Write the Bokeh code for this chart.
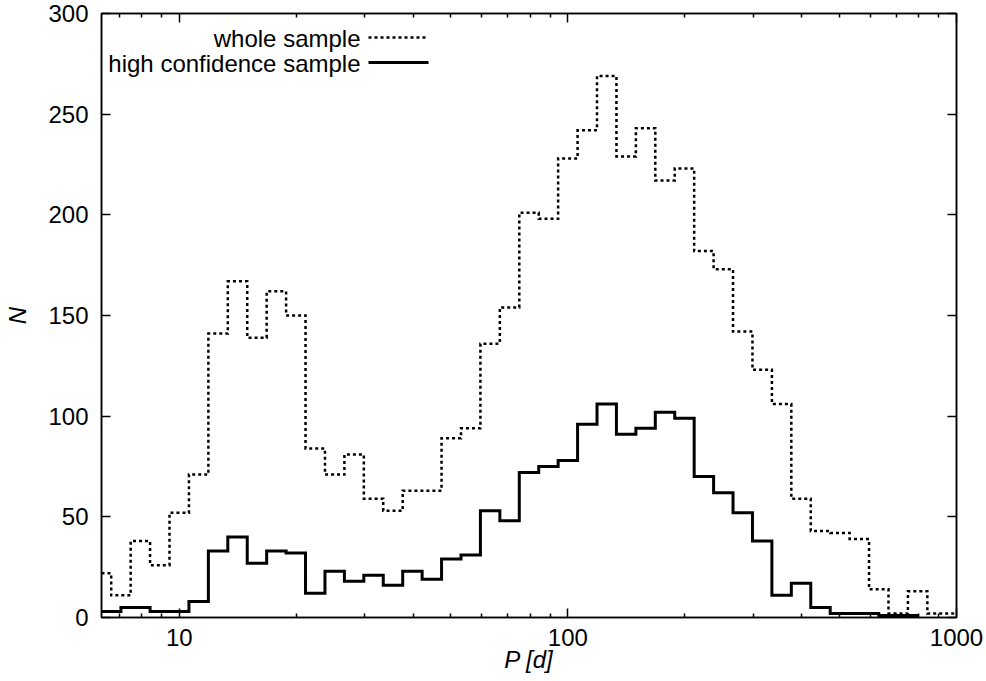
import numpy as np
from bokeh.plotting import figure
from bokeh.models import Range1d, FixedTicker, LogAxis, LinearAxis, Label, Arrow
from bokeh.embed import file_html
from bokeh.resources import INLINE

# ---------------- data (bin centres are log10(P / d)) ----------------
whole_logp = [0.80, 0.85, 0.90, 0.95, 1.00, 1.05, 1.10, 1.15, 1.20, 1.25,
              1.30, 1.35, 1.40, 1.45, 1.50, 1.55, 1.60, 1.65, 1.70, 1.75,
              1.80, 1.85, 1.90, 1.95, 2.00, 2.05, 2.10, 2.15, 2.20, 2.25,
              2.30, 2.35, 2.40, 2.45, 2.50, 2.55, 2.60, 2.65, 2.70, 2.75,
              2.80, 2.85, 2.90, 2.95, 3.00]
whole_n = [22, 11, 38, 26, 52, 71, 141, 167, 139, 162,
           150, 84, 71, 81, 59, 53, 63, 63, 89, 94,
           136, 154, 201, 198, 228, 242, 269, 229, 243, 217,
           223, 182, 173, 142, 123, 106, 59, 43, 42, 39,
           14, 2, 13, 2, 2]

conf_logp = [0.80, 0.90, 0.95, 1.00, 1.05, 1.10, 1.15, 1.20, 1.25, 1.30,
             1.35, 1.40, 1.45, 1.50, 1.55, 1.60, 1.65, 1.70, 1.75, 1.80,
             1.85, 1.90, 1.95, 2.00, 2.05, 2.10, 2.15, 2.20, 2.25, 2.30,
             2.35, 2.40, 2.45, 2.50, 2.55, 2.60, 2.65, 2.70, 2.75, 2.85]
conf_n = [3, 5, 3, 3, 8, 33, 40, 27, 33, 32,
          12, 23, 18, 21, 16, 23, 19, 29, 31, 53,
          48, 72, 75, 78, 96, 106, 91, 94, 102, 99,
          70, 62, 52, 38, 11, 17, 5, 2, 2, 1]

series_names = ["whole sample", "high confidence sample"]
xticks = [10, 100, 1000]
xtick_labels = ["10", "100", "1000"]
yticks = [0, 50, 100, 150, 200, 250, 300]
x_label = "P [d]"
y_label = "N"


def histeps(centres, counts):
    """gnuplot-style 'histeps': step edges half-way between centres."""
    c = np.asarray(centres, float)
    n = np.asarray(counts, float)
    mids = (c[:-1] + c[1:]) / 2.0
    left = c[0] - (c[1] - c[0]) / 2.0
    right = c[-1] + (c[-1] - c[-2]) / 2.0
    edges = np.concatenate([[left], mids, [right]])
    xs, ys = [edges[0]], [0.0]
    for i in range(len(n)):
        xs += [edges[i], edges[i + 1]]
        ys += [n[i], n[i]]
    xs.append(edges[-1])
    ys.append(0.0)
    return list(10 ** np.array(xs)), ys


FONT = "Liberation Sans"
FS = "24px"

p = figure(width=986, height=681, x_axis_type="log",
           x_range=Range1d(10 ** 0.8, 1000), y_range=Range1d(0, 300),
           output_backend="svg", toolbar_location=None,
           min_border_left=101, min_border_right=30,
           min_border_top=13, min_border_bottom=64)
p.xgrid.grid_line_color = None
p.ygrid.grid_line_color = None
p.outline_line_color = "black"
p.outline_line_width = 1.5
p.background_fill_color = "white"
p.border_fill_color = "white"

minor = [m * 10 ** k for k in range(0, 3) for m in range(2, 10)]
xticker = FixedTicker(ticks=xticks, minor_ticks=minor)
yticker = FixedTicker(ticks=yticks, minor_ticks=[])


def style_axis(ax, show_labels=True):
    ax.axis_line_color = "black"
    ax.axis_line_width = 1.5
    ax.major_tick_in = 9
    ax.major_tick_out = 0
    ax.minor_tick_in = 4
    ax.minor_tick_out = 0
    ax.major_tick_line_width = 1.5
    ax.minor_tick_line_width = 1.5
    ax.major_tick_line_color = "black"
    ax.minor_tick_line_color = "black"
    ax.major_label_text_font = FONT
    if show_labels:
        ax.major_label_text_font_size = FS
        ax.major_label_text_color = "black"
    else:
        ax.major_label_text_font_size = "1px"
        ax.major_label_text_color = None
        ax.major_label_standoff = 0


xa = p.xaxis[0]
xa.ticker = xticker
xa.major_label_overrides = {t: l for t, l in zip(xticks, xtick_labels)}
style_axis(xa)
xa.major_label_standoff = 11
xa.axis_label = x_label
xa.axis_label_text_font = FONT
xa.axis_label_text_font_size = FS
xa.axis_label_text_font_style = "italic"
xa.axis_label_text_color = "black"
xa.axis_label_standoff = -3

ya = p.yaxis[0]
ya.ticker = yticker
style_axis(ya)
ya.major_label_standoff = 13
ya.axis_label = y_label
ya.axis_label_text_font = FONT
ya.axis_label_text_font_size = FS
ya.axis_label_text_font_style = "italic"
ya.axis_label_text_color = "black"
ya.axis_label_standoff = 14

top = LogAxis(ticker=xticker)
style_axis(top, show_labels=False)
p.add_layout(top, "above")
right = LinearAxis(ticker=yticker)
style_axis(right, show_labels=False)
p.add_layout(right, "right")

wx, wy = histeps(whole_logp, whole_n)
cx, cy = histeps(conf_logp, conf_n)
p.line(wx, wy, line_color="black", line_width=2.5, line_dash="3 3",
       line_join="miter")
p.line(cx, cy, line_color="black", line_width=3, line_join="miter")

# key (top-left, text right-aligned, sample to the right)
rows = [(579, 580, "3 3", 2.5), (554, 555, "solid", 3)]
for name, (ty, ly, dash, lw) in zip(series_names, rows):
    p.add_layout(Label(x=259, y=ty, x_units="screen", y_units="screen",
                       text=name, text_font=FONT, text_font_size=FS,
                       text_align="right", text_baseline="alphabetic",
                       text_color="black"))
    p.add_layout(Arrow(x_start=267, y_start=ly, x_end=327, y_end=ly,
                       start_units="screen", end_units="screen", end=None,
                       line_color="black", line_width=lw, line_dash=dash))

open("out.html", "w").write(file_html(p, INLINE))
